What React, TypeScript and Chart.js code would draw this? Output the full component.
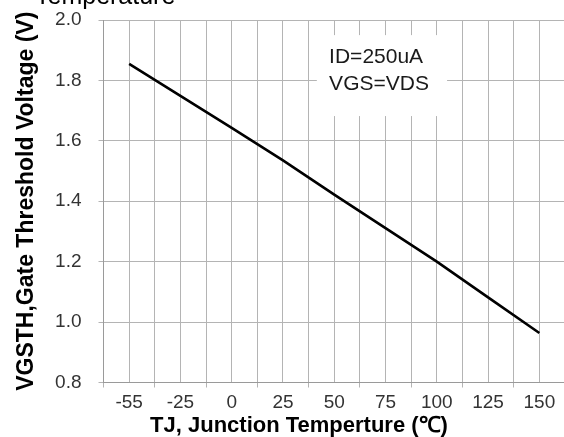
import React, { useEffect, useRef } from "react";
import { Chart, registerables } from "chart.js";

Chart.register(...registerables);

// ---- data ----
const categories = ["-55", "-25", "0", "25", "50", "75", "100", "125", "150"];
const vgsth = [1.855, 1.749, 1.643, 1.535, 1.422, 1.311, 1.2, 1.082, 0.964];
const yTicks = [0.8, 1.0, 1.2, 1.4, 1.6, 1.8, 2.0];
const noteLines = ["ID=250uA", "VGS=VDS"];
const xTitle = "TJ, Junction Temperture (\u2103)";
const yTitle = "VGSTH,Gate Threshold Voltage (V)";
const topTitle = "Temperature";

const FONT = "'Liberation Sans', Arial, sans-serif";
const GRID = "#b4b4b4";
const AXIS = "#9a9a9a";

export default function App() {
  const ref = useRef<HTMLCanvasElement | null>(null);

  useEffect(() => {
    const canvas = ref.current;
    if (!canvas) return;

    const overlay = {
      id: "overlay",
      beforeDatasetsDraw(chart: any) {
        const { ctx, scales } = chart;
        const xs = scales.x;
        const ys = scales.y;
        const x0 = xs.getPixelForValue(3.66);
        const x1 = xs.getPixelForValue(6.2);
        const y0 = ys.getPixelForValue(1.95);
        const y1 = ys.getPixelForValue(1.682);
        ctx.save();
        ctx.fillStyle = "#ffffff";
        ctx.fillRect(x0, y0, x1 - x0, y1 - y0);
        ctx.fillStyle = "#1a1a1a";
        ctx.font = `21px ${FONT}`;
        ctx.textAlign = "left";
        ctx.textBaseline = "alphabetic";
        const tx = xs.getPixelForValue(3.9);
        noteLines.forEach((t, i) => {
          ctx.fillText(t, tx, y0 + 28 + i * 27);
        });
        ctx.restore();
      },
      afterDraw(chart: any) {
        const { ctx } = chart;
        ctx.save();
        ctx.fillStyle = "#000000";
        ctx.textBaseline = "alphabetic";
        ctx.font = `25px ${FONT}`;
        ctx.textAlign = "left";
        ctx.fillText(topTitle, 35, 3.5);
        ctx.font = `bold 22px ${FONT}`;
        ctx.textAlign = "center";
        ctx.fillText(xTitle, 299, 432);
        ctx.restore();
      },
    };

    const chart = new Chart(canvas, {
      type: "line",
      data: {
        datasets: [
          {
            data: categories.map((c, i) => ({ x: i, y: vgsth[i] })),
            borderColor: "#000000",
            borderWidth: 2.6,
            pointRadius: 0,
            tension: 0,
            fill: false,
          },
        ],
      },
      options: {
        animation: false,
        responsive: false,
        layout: { padding: { top: 20, right: 7, left: 0, bottom: 0 } },
        plugins: {
          legend: { display: false },
          title: { display: false },
          tooltip: { enabled: false },
        },
        scales: {
          x: {
            type: "linear",
            min: -0.5,
            max: categories.length - 0.5,
            afterBuildTicks: (s: any) => {
              const t: any[] = [];
              for (let k = 0; k <= categories.length * 2; k++) t.push({ value: -0.5 + k * 0.5 });
              s.ticks = t;
            },
            afterFit: (s: any) => {
              s.height = 54.5;
              s.paddingLeft = 0;
              s.paddingRight = 0;
            },
            ticks: {
              autoSkip: false,
              maxRotation: 0,
              minRotation: 0,
              padding: 4,
              color: "#333333",
              font: { family: FONT, size: 19 },
              callback: (v: any) => (Number.isInteger(v) ? categories[v] : ""),
            },
            grid: {
              color: GRID,
              lineWidth: 1,
              tickLength: 5,
              tickColor: (ctx: any) =>
                ctx.tick && Number.isInteger(ctx.tick.value) ? "rgba(0,0,0,0)" : GRID,
            },
            border: { color: AXIS, width: 1 },
          },
          y: {
            type: "linear",
            min: 0.8,
            max: 2.0,
            afterBuildTicks: (s: any) => {
              s.ticks = yTicks.map((v) => ({ value: v }));
            },
            afterFit: (s: any) => {
              s.width = 103.5;
              s.paddingTop = 0;
              s.paddingBottom = 0;
            },
            ticks: {
              padding: 17,
              color: "#333333",
              font: { family: FONT, size: 19 },
              callback: (v: any) => Number(v).toFixed(1),
            },
            grid: { color: GRID, lineWidth: 1, tickLength: 5, tickColor: GRID },
            border: { color: AXIS, width: 1 },
            title: {
              display: true,
              text: yTitle,
              color: "#000000",
              font: { family: FONT, size: 23, weight: "bold" },
              padding: { top: 13, bottom: 0 },
            },
          },
        },
      },
      plugins: [overlay],
    });

    return () => chart.destroy();
  }, []);

  return (
    <div
      style={{
        position: "fixed",
        left: 0,
        top: 0,
        width: 564,
        height: 437,
        overflow: "hidden",
        background: "#ffffff",
      }}
    >
      <canvas ref={ref} width={572} height={437} style={{ display: "block" }} />
    </div>
  );
}
